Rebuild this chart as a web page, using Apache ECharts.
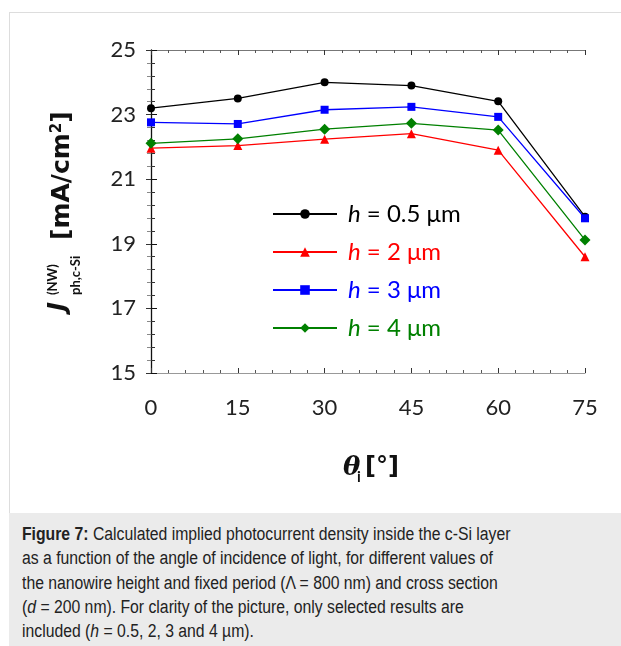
<!DOCTYPE html>
<html>
<head>
<meta charset="utf-8">
<script src="https://cdn.jsdelivr.net/npm/echarts@6/dist/echarts.min.js"></script>
<style>
  html, body { margin: 0; padding: 0; background: #fff; }
  #panel { position: absolute; left: 9px; top: 12px; width: 612px; height: 501px;
           border-top: 1px solid #ddd; border-left: 1px solid #ddd; box-sizing: border-box; }
  #chart { position: absolute; left: 0; top: 0; width: 621px; height: 646px; }
  #caption { position: absolute; left: 9px; top: 513px; width: 612px; height: 133px;
             background: #ebebeb; box-sizing: border-box; padding: 9px 0 0 13px; overflow: hidden; }
  #caption div { white-space: nowrap; transform: scaleX(0.875); transform-origin: 0 0;
                 font-family: "Liberation Sans", Arial, sans-serif;
                 font-size: 18px; line-height: 24.3px; color: #222; }
</style>
</head>
<body>
<div id="panel"></div>
<div id="chart"></div>
<div id="caption"><div><b>Figure 7:</b> Calculated implied photocurrent density inside the c-Si layer<br>
as a function of the angle of incidence of light, for different values of<br>
the nanowire height and fixed period (&Lambda; = 800 nm) and cross section<br>
(<i>d</i> = 200 nm). For clarity of the picture, only selected results are<br>
included (<i>h</i> = 0.5, 2, 3 and 4 &micro;m).</div></div>
<script>
  // angle of incidence [deg]
  var angles = [0, 15, 30, 45, 60, 75];
  // photocurrent density [mA/cm2] for each nanowire height
  var h05 = [23.2, 23.5, 24.0, 23.9, 23.41, 19.84];
  var h2 = [21.96, 22.04, 22.24, 22.41, 21.9, 18.6];
  var h3 = [22.76, 22.71, 23.15, 23.24, 22.93, 19.79];
  var h4 = [22.11, 22.25, 22.55, 22.73, 22.52, 19.12];
  var names = ['h = 0.5 μm', 'h = 2 μm', 'h = 3 μm', 'h = 4 μm'];

  var font = 'Lato, "Open Sans", sans-serif';
  var tfont = '"DejaVu Sans", sans-serif';
  var chart = echarts.init(document.getElementById('chart'));

  function pairs(vals) {
    return angles.map(function (a, i) { return [a, vals[i]]; });
  }
  function line(name, vals, color, symbol, size) {
    return {
      name: name, type: 'line', data: pairs(vals),
      symbol: symbol, symbolSize: size,
      lineStyle: { color: color, width: 1.3 },
      itemStyle: { color: color }
    };
  }

  var colors = ['#000000', '#ff0000', '#0000ff', '#008000'];

  chart.setOption({
    backgroundColor: 'transparent',
    animation: false,
    grid: { left: 151, right: 36, top: 50, bottom: 273 },
    legend: {
      orient: 'vertical', left: 267, top: 197,
      itemWidth: 64, itemHeight: 12, itemGap: 14,
      data: names.map(function (n, i) {
        return { name: n, textStyle: { color: colors[i] } };
      }),
      formatter: function (name) {
        return '{i|h}{n|' + name.slice(1) + '}';
      },
      textStyle: {
        fontFamily: font, fontSize: 24, padding: [0, 0, 0, 6],
        rich: { i: { fontStyle: 'italic', fontSize: 24, fontFamily: font },
                n: { fontSize: 24, fontFamily: font } }
      }
    },
    xAxis: [{
      type: 'value', min: 0, max: 75, interval: 15,
      axisLine: { lineStyle: { color: '#999', width: 1 } },
      axisTick: { inside: true, length: 5, lineStyle: { color: '#333' } },
      minorTick: { show: true, splitNumber: 5, length: 3, lineStyle: { color: '#555' } },
      splitLine: { show: false },
      axisLabel: { fontFamily: font, fontSize: 22, color: '#222', margin: 24 }
    }, {
      type: 'value', min: 0, max: 75, interval: 15, position: 'top',
      axisLine: { show: true, lineStyle: { color: '#777', width: 1 } },
      axisTick: { show: true, inside: true, length: 5, lineStyle: { color: '#333' } },
      minorTick: { show: true, splitNumber: 5, length: 3, lineStyle: { color: '#555' } },
      splitLine: { show: false },
      axisLabel: { show: false }
    }],
    yAxis: [{
      type: 'value', min: 15, max: 25, interval: 2,
      axisLine: { show: true, lineStyle: { color: '#111', width: 1.3 } },
      axisTick: { inside: true, length: 6, lineStyle: { color: '#111' } },
      minorTick: { show: true, splitNumber: 5, length: 4, lineStyle: { color: '#333' } },
      splitLine: { show: false },
      axisLabel: { fontFamily: font, fontSize: 22, color: '#222', margin: 15 }
    }, {
      type: 'value', min: 15, max: 25, interval: 2, position: 'right',
      axisLine: { show: false },
      axisTick: { show: true, inside: true, length: 5, lineStyle: { color: '#333' } },
      minorTick: { show: true, splitNumber: 5, length: 4, lineStyle: { color: '#888' } },
      splitLine: { show: false },
      axisLabel: { show: false }
    }],
    series: [
      line(names[0], h05, colors[0], 'circle', 8),
      line(names[1], h2, colors[1], 'triangle', 9),
      line(names[2], h3, colors[2], 'rect', 8),
      line(names[3], h4, colors[3], 'diamond', 11)
    ],
    graphic: [{
      type: 'group', x: 62, y: 311, rotation: Math.PI / 2,
      children: [
        { type: 'text', x: 0, y: -3, style: { text: 'J', font: 'italic bold 24px ' + tfont,
          fill: '#111', verticalAlign: 'middle' } },
        { type: 'text', x: 16, y: -9, style: { text: '(NW)', font: 'bold 13px ' + font,
          fill: '#111', verticalAlign: 'middle' } },
        { type: 'text', x: 16, y: 14, style: { text: 'ph,c-Si', font: 'bold 13px ' + font,
          fill: '#111', verticalAlign: 'middle' } },
        { type: 'text', x: 71, y: 0, style: {
          text: '{a|[mA/cm}{s|2}{a|]}', fill: '#111', verticalAlign: 'middle',
          rich: { a: { font: 'bold 25px ' + tfont, fill: '#111' },
                  s: { font: 'bold 15px ' + tfont, fill: '#111', verticalAlign: 'top' } } } }
      ]
    }, {
      type: 'group', x: 343, y: 468,
      children: [
        { type: 'text', x: 0, y: 0, style: { text: 'θ', font: 'italic bold 26px "DejaVu Serif", serif',
          fill: '#111', verticalAlign: 'middle' } },
        { type: 'text', x: 14, y: 9, style: { text: 'i', font: 'bold 15px ' + font,
          fill: '#111', verticalAlign: 'middle' } },
        { type: 'text', x: 22, y: 0, style: { text: '[°]', font: 'bold 24px ' + tfont,
          fill: '#111', verticalAlign: 'middle' } }
      ]
    }]
  });
</script>
</body>
</html>
